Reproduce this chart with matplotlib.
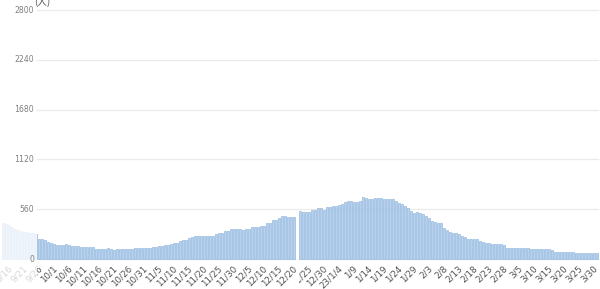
import matplotlib
matplotlib.use("Agg")
import matplotlib.pyplot as plt
import numpy as np
import pandas as pd
from matplotlib.patches import Rectangle
from matplotlib.transforms import Bbox

plt.rcParams['font.family'] = ['DejaVu Sans', 'Noto Sans CJK SC']

# ---- data ----
start_date = '2022-09-14'
end_date = '2023-03-31'
sep_values = [410, 395, 378, 360, 342, 330, 318, 308, 300, 295, 290, 280,
              221, 221, 213, 195, 184]
oct_values = [169, 157, 157, 157, 165, 157, 150, 150, 150, 131, 131, 131, 131, 138, 112,
              112, 112, 112, 120, 110, 101, 109, 112, 112, 112, 112, 112, 120, 120, 120, 120]
nov_values = [120, 120, 138, 138, 146, 150, 157, 157, 172, 176, 178, 206, 210, 215, 240,
              245, 258, 258, 258, 255, 258, 258, 260, 285, 290, 295, 312, 318, 333, 333]
dec_values = [335, 333, 330, 333, 336, 355, 363, 363, 370, 370, 405, 410, 435, 440, 457,
              480, 485, 472, 472, 468, 470, 539, 525, 525, 530, 551, 551, 570, 570, 551, 581]
jan_values = [588, 596, 596, 607, 618, 644, 655, 655, 644, 637, 655, 693, 689, 678, 671,
              682, 682, 682, 678, 678, 675, 671, 655, 633, 618, 596, 570, 543, 521, 525, 514]
feb_values = [502, 483, 457, 431, 412, 401, 400, 344, 325, 307, 288, 288, 277, 258, 243,
              221, 221, 221, 221, 206, 194, 183, 176, 164, 164, 164, 164, 157]
mar_values = [127, 127, 120, 120, 120, 120, 120, 120, 108, 108, 108, 108, 108, 112, 112,
              101, 82, 75, 75, 75, 75, 75, 75, 64, 64, 64, 64, 71, 71, 71, 71]

tick_labels = ['9/16', '9/21', '9/26', '10/1', '10/6', '10/11', '10/16', '10/21', '10/26',
               '10/31', '11/5', '11/10', '11/15', '11/20', '11/25', '11/30', '12/5', '12/10',
               '12/15', '12/20', '12/25', '12/30', '23/1/4', '1/9', '1/14', '1/19', '1/24',
               '1/29', '2/3', '2/8', '2/13', '2/18', '2/23', '2/28', '3/5', '3/10', '3/15',
               '3/20', '3/25', '3/30']
y_ticks = [0, 560, 1120, 1680, 2240, 2800]
unit_label = '(人)'

values = sep_values + oct_values + nov_values + dec_values + jan_values + feb_values + mar_values
dates = pd.date_range(start_date, end_date, freq='D')
x = np.arange(len(dates))

# ---- figure ----
W, H = 600, 289
fig = plt.figure(figsize=(W / 100, H / 100), dpi=100)
ax = fig.add_axes([0, 0, 1, 1])
ax.set_axis_off()

# pixel mapping: day i at pixel 3 + 3i ; value 0 at pixel 259 (from top), 2800 at pixel 10
px_per_day = 3.0
x0_pix = 3.0
ax.set_xlim(-x0_pix / px_per_day, -x0_pix / px_per_day + W / px_per_day)
units_per_px = 2800 / 249.0
ymin = -(H - 259) * units_per_px
ymax = 2800 + 10 * units_per_px
ax.set_ylim(ymin, ymax)

# grid lines
for yt in y_ticks:
    ax.axhline(yt, xmin=36 / W, xmax=598 / W, color='#ebebeb', lw=0.9, zorder=1)

# bars
ax.bar(x, values, width=0.52, color='#b7d2ef', edgecolor='#8cb2dc', linewidth=0.45, zorder=2)

# x tick labels
tick_idx = [i for i, d in enumerate(dates) if (d - pd.Timestamp('2022-09-16')).days % 5 == 0]
seam_px = (295.5, 298.8)
for i, lab in zip(tick_idx, tick_labels):
    t = ax.text(i + 0.6, ymin + (H - 267) * units_per_px, lab, rotation=45,
                rotation_mode='anchor', ha='right', va='center', fontsize=6.3,
                color='#505050', zorder=3)
    px = x0_pix + px_per_day * i
    if px < 297:
        t.set_clip_box(Bbox.from_extents(0, 0, seam_px[0], H))
    else:
        t.set_clip_box(Bbox.from_extents(seam_px[1], 0, W, H))
    t.set_clip_on(True)

# seam strip between stitched screenshots
ax.add_patch(Rectangle((seam_px[0] / W, 0), (seam_px[1] - seam_px[0]) / W, (H - 213) / H,
                       transform=fig.transFigure, facecolor='white', edgecolor='none',
                       zorder=4, clip_on=False))

# faded overlay under y axis
ax.add_patch(Rectangle((0, 0), 37 / W, 1, transform=fig.transFigure, facecolor='white',
                       edgecolor='none', alpha=0.78, zorder=5, clip_on=False))

# y tick labels
for yt in y_ticks:
    ax.text(-x0_pix / px_per_day + 34 / px_per_day, yt, str(yt), ha='right', va='center',
            fontsize=5.6, color='#808080', zorder=6)

# unit label
fig.text(42 / W, 1 - 2 / H, unit_label, ha='center', va='center', fontsize=7,
         color='#555555', family=['Noto Sans CJK SC', 'DejaVu Sans'], zorder=7)

fig.savefig('out.png', dpi=100)
